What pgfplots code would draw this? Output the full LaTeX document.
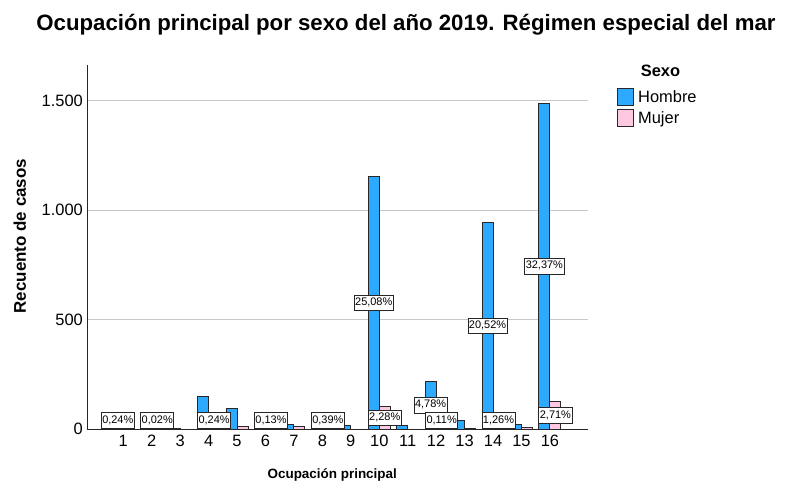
\documentclass[border=0pt]{standalone}
\usepackage{pgfplots}
\pgfplotsset{compat=1.18}
\usepackage{pgfplotstable}
\usepackage{fontspec}
\setmainfont{Liberation Sans}
\definecolor{hblue}{RGB}{45,170,255}
\definecolor{mpink}{RGB}{255,200,225}
\definecolor{gridc}{RGB}{200,200,200}
\definecolor{edgec}{RGB}{40,40,40}
\tikzset{barlabel/.style={draw=black!85, fill=white, line width=0.8bp, font=\fontsize{11}{11}\selectfont,
    inner xsep=1bp, inner ysep=2.5bp, text height=8bp, text depth=2.5bp, anchor=center}}

\pgfplotstableread{
cat h m
1 11 0
2 0 1
3 2 0
4 152 11
5 96 14
6 3 6
7 23 14
8 22 18
9 18 0
10 1155 105
11 18 0
12 220 5
13 41 2
14 945 58
15 24 9
16 1490 125
}\datatable

\begin{document}
\begin{tikzpicture}
\useasboundingbox (0,0) rectangle (787bp,482bp);
\begin{axis}[
  at={(87bp,52.7bp)}, anchor=south west,
  scale only axis, width=501bp, height=364.6bp,
  xmin=-0.276, xmax=17.34, ymin=0, ymax=1665,
  axis lines=left, axis line style={-, line width=0.9bp, black!85},
  xtick={1,...,16}, ytick={0,500,1000,1500},
  major tick length=0pt,
  ymajorgrids, major grid style={gridc, line width=0.9bp},
  /pgf/number format/1000 sep={.},
  /pgf/number format/assume math mode=true,
  tick label style={font=\fontsize{16.5}{17}\selectfont, inner sep=0pt},
  xticklabel style={anchor=north, yshift=-5.7bp},
  yticklabel style={anchor=east, xshift=-4bp},
  xlabel={Ocupación principal},
  xlabel style={at={(axis description cs:0.4895,-0.124)}, anchor=center, font=\bfseries\fontsize{13.5}{14}\selectfont},
  ylabel={Recuento de casos},
  ylabel style={at={(axis description cs:-0.134,0.53)}, anchor=center, font=\bfseries\fontsize{17}{17}\selectfont},
  ybar=0pt, bar width=0.387,
  legend style={at={(1.058,0.936)}, anchor=north west, draw=none, fill=none,
    inner sep=0pt, row sep=3bp, font=\fontsize{16.5}{17}\selectfont,
    nodes={inner sep=0pt, anchor=west}},
  legend cell align=left,
  legend image code/.code={\draw[#1] (0bp,-8.5bp) rectangle (16bp,8.5bp);},
]
\addplot[fill=hblue, draw=edgec, line width=0.9bp, bar shift=-0.1935] table[x=cat, y=h] {\datatable};
\addlegendentry{\hspace{4bp}Hombre}
\addplot[fill=mpink, draw=edgec, line width=0.9bp, bar shift=0.1935] table[x=cat, y=m] {\datatable};
\addlegendentry{\hspace{4bp}Mujer}

\node[barlabel] at (axis cs:0.8065,40) {0,24\%};
\node[barlabel] at (axis cs:2.1935,40) {0,02\%};
\node[barlabel] at (axis cs:4.1935,40) {0,24\%};
\node[barlabel] at (axis cs:6.1935,40) {0,13\%};
\node[barlabel] at (axis cs:8.1935,40) {0,39\%};
\node[barlabel] at (axis cs:9.8065,577.5) {25,08\%};
\node[barlabel] at (axis cs:10.1935,52.5) {2,28\%};
\node[barlabel] at (axis cs:11.8065,110) {4,78\%};
\node[barlabel] at (axis cs:12.1935,40) {0,11\%};
\node[barlabel] at (axis cs:13.8065,472.5) {20,52\%};
\node[barlabel] at (axis cs:14.1935,40) {1,26\%};
\node[barlabel] at (axis cs:15.8065,745) {32,37\%};
\node[barlabel] at (axis cs:16.1935,62.5) {2,71\%};
\end{axis}
\node[font=\bfseries\fontsize{22.3}{22.3}\selectfont, anchor=base] at (406bp,451.3bp) {Ocupación principal por sexo del año 2019. Régimen especial del mar};
\node[font=\bfseries\fontsize{16.5}{17}\selectfont, anchor=base] at (660.5bp,405.3bp) {Sexo};
\end{tikzpicture}
\end{document}
